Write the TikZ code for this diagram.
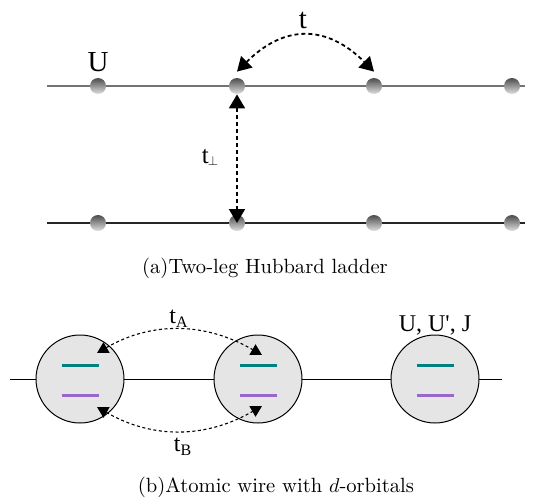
\documentclass[tikz,border=0pt]{standalone}
\usepackage{fontspec}
\newfontfamily\labelfont{Liberation Serif}
\usepackage[dvipsnames]{xcolor}
\usepackage{tikz}
\usetikzlibrary{arrows.meta}
\definecolor{orbA}{HTML}{008080}
\definecolor{orbB}{HTML}{9966CC}

\begin{document}
\begin{tikzpicture}[x=0.5pt, y=-0.5pt,
	site/.style={circle, minimum size=8pt, inner sep=0pt, top color=black!70, bottom color=black!12},
	atom/.style={draw, circle, minimum size=44pt, inner sep=0pt, fill=black!10, line width=0.5pt},
	lbl/.style={font=\labelfont\fontsize{14.5}{16}\selectfont, inner sep=1pt},
	lblsmall/.style={font=\labelfont\fontsize{12}{14}\selectfont, inner sep=1pt},
	capt/.style={font=\fontsize{10.3}{12}\selectfont},
	hop/.style={line width=0.9pt, dash pattern=on 2pt off 1.5pt, {Triangle[length=7pt,width=8pt]}-{Triangle[length=7pt,width=8pt]}},
	hopsmall/.style={line width=0.55pt, dash pattern=on 1.5pt off 1.3pt, {Triangle[length=5.5pt,width=6pt]}-{Triangle[length=5.5pt,width=6pt]}},
	barA/.style={orbA, line width=1.5pt},
	barB/.style={orbB, line width=1.5pt}]
\useasboundingbox (0,0) rectangle (535,498);

% two-leg ladder
\coordinate (legAl) at (47,86);
\coordinate (legAr) at (525,86);
\coordinate (legBl) at (47,223);
\coordinate (legBr) at (525,223);
\draw[black!55, line width=0.6pt] (legAl) -- (legAr);
\draw[black!85, line width=0.6pt] (legBl) -- (legBr);

\node[site] (u1) at (98,86) {};
\node[site] (u2) at (237,86) {};
\node[site] (u3) at (374,86) {};
\node[site] (u4) at (512,86) {};
\node[site] (l1) at (98,223) {};
\node[site] (l2) at (237,223) {};
\node[site] (l3) at (374,223) {};
\node[site] (l4) at (512,223) {};

\node[lbl] (labU) at (98,62) {U};
\node[lbl] (labt) at (303,20) {t};
\node[lbl, font=\labelfont\fontsize{12.5}{14}\selectfont] (labtperp) at (210,157) {t\kern-0.5pt\raisebox{-1pt}{\scalebox{0.55}{$\perp$}}};

\draw[hop] ([yshift=3pt]u2.north) to[out=45, in=135, looseness=1.25] ([yshift=3pt]u3.north);
\draw[hop] (u2.south) -- (l2.center);

\node[capt] (capA) at (265,268) {(a)Two-leg Hubbard ladder};

% atomic wire
\coordinate (wireL) at (10,379);
\coordinate (wireR) at (502,379);
\draw[line width=0.5pt] (wireL) -- (wireR);

\node[atom] (a1) at (80,379) {};
\node[atom] (a2) at (258,379) {};
\node[atom] (a3) at (435,379) {};

\draw[barA] (a1) ++(-18.5,-14) -- ++(37,0);
\draw[barB] (a1) ++(-18.5,16) -- ++(37,0);
\draw[barA] (a2) ++(-18.5,-14) -- ++(37,0);
\draw[barB] (a2) ++(-18.5,16) -- ++(37,0);
\draw[barA] (a3) ++(-18.5,-14) -- ++(37,0);
\draw[barB] (a3) ++(-18.5,16) -- ++(37,0);

\draw[hopsmall] ([shift={(8.5pt,13pt)}]a1.center) to[out=30, in=150] ([shift={(2pt,12pt)}]a2.center);
\draw[hopsmall] ([shift={(8.5pt,-14pt)}]a1.center) to[out=-30, in=-150] ([shift={(2pt,-13.5pt)}]a2.center);

\node[lblsmall] (labtA) at (179,319) {t\textsubscript{A}};
\node[lblsmall] (labtB) at (183,447) {t\textsubscript{B}};
\node[lblsmall] (labUUJ) at (435,325) {U, U', J};

\node[capt] (capB) at (276,487) {(b)Atomic wire with $d$-orbitals};
\end{tikzpicture}
\end{document}
